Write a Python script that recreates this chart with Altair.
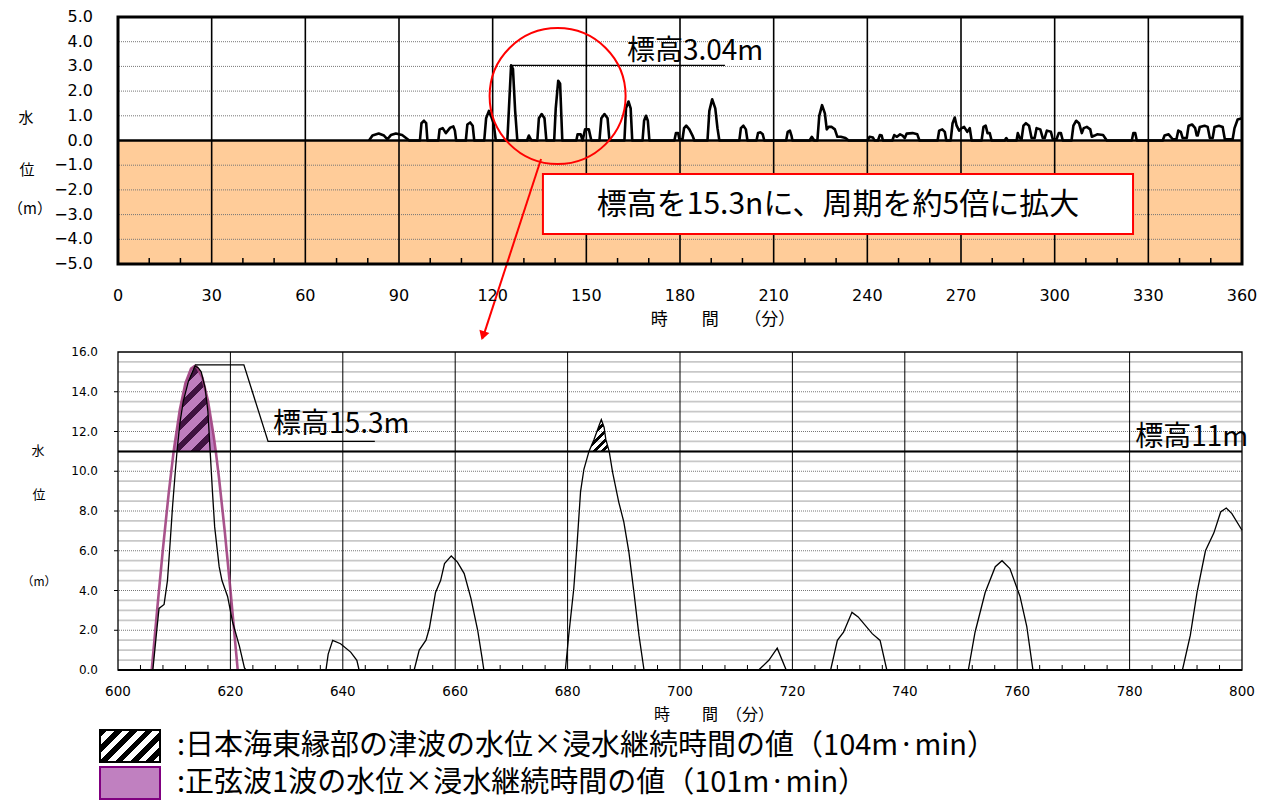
import altair as alt
import pandas as pd

CJK = "Noto Sans CJK JP"
NUM = "DejaVu Sans"

# ---------------- data ----------------
top_time = [
    80.4, 81.5, 83.5, 85.2, 86.3, 87.4, 89.0, 91.0, 93.3,
    96.7, 97.2, 98.0, 98.7, 99.1,
    102.6, 103.0, 104.0, 105.0, 106.4, 107.4, 107.9, 108.3,
    111.4, 111.9, 112.8, 113.6, 114.1,
    117.3, 117.9, 118.8, 119.6, 120.3, 121.0,
    124.7, 125.2, 125.9, 126.5, 127.2, 127.9,
    131.0, 131.6, 132.4,
    134.3, 134.8, 135.7, 136.6, 137.2,
    139.7, 140.2, 141.0, 141.6, 142.3,
    146.8, 147.2, 148.2, 148.8, 149.6, 150.8, 151.6,
    154.2, 154.8, 155.8, 156.8, 157.4,
    162.2, 162.7, 163.5, 164.2, 164.7,
    168.0, 168.5, 169.1, 169.7, 170.2,
    178.2, 178.7, 179.4, 179.8, 180.8, 181.3, 182.0, 183.0, 184.0, 184.6,
    188.8, 189.4, 190.3, 191.3, 192.0, 192.6,
    199.0, 199.5, 200.3, 201.1, 201.6,
    204.5, 205.0, 205.8, 206.5, 207.0,
    214.0, 214.5, 215.2, 215.7, 216.0,
    221.5, 222.2, 223.0,
    224.0, 224.6, 225.5, 226.4, 227.0, 227.6, 228.6, 229.6, 230.4, 231.5, 233.0, 234.0,
    240.0, 240.7, 241.8, 242.3,
    243.4, 244.0, 244.6, 245.0,
    248.0, 248.6, 249.5, 250.5, 251.3, 252.0, 252.6, 254.5, 256.0, 256.7,
    262.5, 263.0, 264.0, 264.8, 265.3,
    266.7, 267.3, 268.0, 268.6, 269.4, 270.2, 271.0, 272.0, 272.8, 273.4,
    276.6, 277.2, 277.9, 278.5, 279.2, 279.8,
    284.0, 284.5, 285.0,
    287.8, 288.2, 288.8, 289.4, 290.0, 290.8, 291.8, 292.6, 293.6, 294.2,
    295.4, 296.2, 296.8, 297.5, 298.8, 299.4, 300.6, 301.3, 302.0, 302.6,
    305.4, 306.0, 306.9, 307.8, 308.7, 309.3, 310.3, 311.4, 311.9, 312.8, 313.6, 315.5, 316.7,
    324.7, 325.2, 325.8, 326.3,
    334.6, 335.2, 336.5, 337.8, 339.0, 339.6, 340.4, 341.0, 342.3, 342.9, 344.0, 345.0, 345.5,
    345.8, 346.5, 348.0, 349.0, 349.7, 350.6, 351.2, 352.6, 353.8, 354.5, 357.0, 357.6, 358.6, 360.0,
]
top_level = [
    0.0, 0.2, 0.28, 0.2, 0.05, 0.22, 0.28, 0.22, 0.0,
    0.0, 0.7, 0.8, 0.7, 0.0,
    0.0, 0.45, 0.5, 0.3, 0.52, 0.57, 0.4, 0.0,
    0.0, 0.65, 0.73, 0.6, 0.0,
    0.0, 0.9, 1.2, 0.95, 0.7, 0.0,
    0.0, 1.26, 3.04, 2.9, 1.2, 0.0,
    0.0, 0.2, 0.0,
    0.0, 0.9, 1.07, 0.9, 0.0,
    0.0, 1.3, 2.42, 2.3, 0.0,
    0.0, 0.25, 0.25, 0.0, 0.45, 0.45, 0.0,
    0.0, 0.9, 1.07, 0.9, 0.0,
    0.0, 1.3, 1.58, 1.3, 0.0,
    0.0, 0.8, 1.0, 0.8, 0.0,
    0.0, 0.3, 0.3, 0.05, 0.05, 0.5, 0.6, 0.45, 0.2, 0.0,
    0.0, 1.2, 1.67, 1.3, 0.5, 0.0,
    0.0, 0.5, 0.6, 0.45, 0.0,
    0.0, 0.3, 0.33, 0.25, 0.0,
    0.0, 0.35, 0.4, 0.2, 0.0,
    0.0, 0.15, 0.0,
    0.0, 1.0, 1.43, 1.1, 0.45, 0.55, 0.55, 0.45, 0.15, 0.15, 0.1, 0.0,
    0.0, 0.15, 0.12, 0.0,
    0.0, 0.22, 0.2, 0.0,
    0.0, 0.22, 0.15, 0.25, 0.2, 0.1, 0.28, 0.3, 0.25, 0.0,
    0.0, 0.4, 0.45, 0.35, 0.0,
    0.0, 0.7, 0.93, 0.6, 0.4, 0.5, 0.55, 0.35, 0.5, 0.0,
    0.0, 0.55, 0.6, 0.3, 0.3, 0.0,
    0.0, 0.1, 0.0,
    0.0, 0.3, 0.1, 0.05, 0.6, 0.7, 0.6, 0.1, 0.1, 0.5,
    0.45, 0.1, 0.1, 0.4, 0.35, 0.05, 0.05, 0.3, 0.3, 0.0,
    0.0, 0.6, 0.8, 0.7, 0.3, 0.5, 0.55, 0.45, 0.15, 0.2, 0.25, 0.22, 0.0,
    0.0, 0.3, 0.3, 0.0,
    0.0, 0.2, 0.25, 0.05, 0.05, 0.4, 0.35, 0.1, 0.1, 0.6, 0.65, 0.5, 0.2,
    0.2, 0.55, 0.6, 0.55, 0.1, 0.1, 0.55, 0.6, 0.55, 0.05, 0.05, 0.5, 0.85, 0.9,
]

bottom_time = [
    600.0, 606.2, 606.9, 607.3, 608.2, 608.8, 609.3, 609.7, 610.2, 610.5, 611.0, 611.6, 612.5,
    613.7, 614.3, 614.8, 615.5, 616.0, 616.4, 616.8, 617.2, 618.0, 618.5, 619.5, 620.4,
    621.6, 622.5, 622.8,
    637.0, 637.4, 638.2, 639.6, 641.4, 642.5, 642.9,
    652.7, 653.6, 654.8, 655.4, 656.5, 657.4, 658.1, 659.3, 660.4, 661.6, 662.8, 664.0, 664.8, 665.1,
    679.6, 680.2, 681.1, 681.7, 682.3, 682.9, 683.8, 684.7, 685.6, 686.0, 686.5, 686.8, 687.4,
    688.0, 689.1, 690.0, 690.9, 691.8, 692.7, 693.6,
    714.0, 715.8, 717.3, 718.9,
    726.8, 728.0, 729.1, 730.6, 731.7, 734.2, 735.6, 736.8,
    751.3, 752.5, 754.3, 756.1, 757.3, 758.7, 760.5, 761.7, 762.8,
    789.4, 790.8, 792.0, 793.5, 795.0, 796.2, 797.2, 798.2, 800.0,
]
bottom_level = [
    0.0, 0.0, 2.0, 3.1, 3.3, 4.5, 6.5, 8.2, 10.0, 11.0, 12.4, 13.5, 14.5,
    15.3, 15.2, 15.0, 14.2, 13.0, 11.0, 9.0, 7.2, 5.2, 4.5, 3.7, 2.4,
    1.2, 0.1, 0.0,
    0.0, 0.8, 1.49, 1.32, 0.9, 0.49, 0.0,
    0.0, 1.0, 1.5, 2.1, 3.9, 4.5, 5.35, 5.74, 5.43, 4.85, 3.6, 2.0, 0.57, 0.0,
    0.0, 1.74, 4.1, 6.4, 8.96, 10.1, 11.0, 11.6, 12.3, 12.6, 12.2, 11.6, 11.0,
    9.96, 8.45, 7.45, 5.94, 3.92, 1.74, 0.0,
    0.0, 0.49, 1.1, 0.0,
    0.0, 1.49, 1.9, 2.9, 2.67, 1.83, 1.49, 0.0,
    0.0, 1.9, 3.9, 5.2, 5.5, 5.1, 3.7, 2.2, 0.0,
    0.0, 1.74, 3.9, 6.0, 6.9, 7.95, 8.15, 7.87, 7.03,
]

sine_time = [606.0, 607.0, 608.0, 609.0, 609.9, 610.0, 611.0, 612.0, 613.0, 613.65,
             614.0, 615.0, 616.0, 617.0, 617.4, 618.0, 619.0, 620.0, 621.0, 621.3]
sine_level = [0.0, 3.12, 6.11, 8.84, 11.0, 11.2, 13.09, 14.43, 15.17, 15.3,
              15.26, 14.72, 13.56, 11.82, 11.0, 9.59, 6.96, 4.04, 0.94, 0.0]

top_x_ticks = list(range(0, 361, 30))
top_x_grid = top_x_ticks[1:-1]
top_x_minor = [m for m in range(10, 360, 10) if m % 30]
top_y_ticks = list(range(-5, 6))
top_y_grid = [v for v in top_y_ticks if v not in (-5, 0, 5)]

bot_x_ticks = list(range(600, 801, 20))
bot_x_grid = bot_x_ticks[1:-1]
bot_x_minor = [m for m in range(604, 800, 4) if m % 20]
bot_y_ticks = list(range(0, 17, 2))
bot_y_grid = bot_y_ticks[1:-1]
bot_y_minor = [k / 2 for k in range(1, 32) if k % 4]

legend_items = ["hatch", "sine"]
legend_labels = [":日本海東縁部の津波の水位×浸水継続時間の値（104m·min）",
                 ":正弦波1波の水位×浸水継続時間の値（101m·min）"]

x_title = "時　　間　　（分）"
x_title_b = "時　　間　（分）"
y_title_parts = ["水", "位", "（m）"]
top_label_1 = "標高3.04m"
top_box_text = "標高を15.3nに、周期を約5倍に拡大"
bot_label_1 = "標高15.3m"
bot_label_2 = "標高11m"

# ---------------- layout constants ----------------
W = 1124
H1 = 247
H2 = 318
LEVEL = 11.0

xs1 = alt.Scale(domain=[0, 360], nice=False, zero=False)
ys1 = alt.Scale(domain=[-5, 5], nice=False)
xs2 = alt.Scale(domain=[600, 800], nice=False, zero=False)
ys2 = alt.Scale(domain=[0, 16], nice=False)

one = pd.DataFrame({"k": [0]})


def XF(s):
    return alt.X("t:Q", scale=s, axis=None)


def YF(s):
    return alt.Y("v:Q", scale=s, axis=None)


def XD(v, s):
    return alt.XDatum(datum=v, type="quantitative", scale=s, axis=None)


def YD(v, s):
    return alt.YDatum(datum=v, type="quantitative", scale=s, axis=None)


def fmt(v):
    return f"{v:.1f}".replace("-", "\u2212")


def stripes(w, h, period, c_on, c_off, duty=0.5):
    k = (w + h) / (w * w + h * h)
    n = max(1, round((w + h) / (2 ** 0.5 * period)))
    stops = []
    for i in range(n):
        a = i / n
        b = (i + duty) / n
        c = (i + 1) / n
        stops += [{"offset": a, "color": c_on}, {"offset": b, "color": c_on},
                  {"offset": b, "color": c_off}, {"offset": c, "color": c_off}]
    return {"gradient": "linear", "x1": 0, "y1": 0, "x2": w * k, "y2": h * k, "stops": stops}


def ptext(txt, x, y, size, align="center", font=CJK):
    return alt.Chart(one).mark_text(
        text=txt, font=font, fontSize=size, align=align, baseline="middle", color="black"
    ).encode(x=alt.value(x), y=alt.value(y))


# ---------------- top chart ----------------
top_df = pd.DataFrame({"t": top_time, "v": top_level})

band = alt.Chart(one).mark_rect(color="#FFCC99").encode(
    x=alt.value(0), x2=alt.value(W), y=YD(0, ys1), y2=alt.value(H1))
t_ygrid = alt.Chart(pd.DataFrame({"v": top_y_grid})).mark_rule(
    color="#777777", strokeDash=[1, 1], strokeWidth=1).encode(y=YF(ys1))
t_xgrid = alt.Chart(pd.DataFrame({"t": top_x_grid})).mark_rule(
    color="black", strokeWidth=1.6).encode(x=XF(xs1))
t_minor = alt.Chart(pd.DataFrame({"t": top_x_minor})).mark_rule(
    color="black", strokeWidth=1.5).encode(x=XF(xs1), y=alt.value(H1), y2=alt.value(H1 - 6))
t_line = alt.Chart(top_df).mark_line(color="black", strokeWidth=2.6, strokeJoin="round").encode(
    x=XF(xs1), y=YF(ys1))
t_zero = alt.Chart(one).mark_rule(color="black", strokeWidth=2.6).encode(y=YD(0, ys1))
t_lead = alt.Chart(one).mark_rule(color="black", strokeWidth=1.4).encode(
    x=XD(126.0, xs1), x2=alt.X2Datum(datum=194.4), y=YD(3.04, ys1))
t_label = alt.Chart(one).mark_text(
    text=top_label_1, font=CJK, fontSize=28, align="left", baseline="middle", color="black").encode(
    x=XD(163.0, xs1), y=YD(3.6, ys1))
t_circle = alt.Chart(one).mark_point(
    shape="circle", size=136 ** 2, filled=False, color="red", strokeWidth=2, opacity=1).encode(
    x=XD(140.8, xs1), y=YD(1.8, ys1))
t_arrow = alt.Chart(one).mark_rule(color="red", strokeWidth=2).encode(
    x=XD(135.5, xs1), x2=alt.X2Datum(datum=116.8), y=YD(-0.75, ys1), y2=alt.Y2Datum(datum=-8.0))
t_head = alt.Chart(one).mark_point(
    shape="triangle-down", size=110, filled=True, color="red", opacity=1, angle=18).encode(
    x=XD(116.9, xs1), y=YD(-7.9, ys1))
t_box = alt.Chart(one).mark_rect(fill="white", stroke="red", strokeWidth=2).encode(
    x=XD(136.1, xs1), x2=alt.X2Datum(datum=325.1), y=YD(-1.36, ys1), y2=alt.Y2Datum(datum=-3.79))
t_boxtext = alt.Chart(one).mark_text(
    text=top_box_text, font=CJK, fontSize=30, align="center",
    baseline="middle", color="black").encode(x=XD(230.6, xs1), y=YD(-2.6, ys1))
t_frame = alt.Chart(one).mark_rect(filled=False, color="black", strokeWidth=3).encode(
    x=alt.value(0), x2=alt.value(W), y=alt.value(0), y2=alt.value(H1))

t_ylab = alt.Chart(pd.DataFrame({"v": top_y_ticks, "lab": [fmt(v) for v in top_y_ticks]})).mark_text(
    font=NUM, fontSize=16, align="right", baseline="middle", color="black").encode(
    y=YF(ys1), x=alt.value(-25), text="lab:N")
t_xlab = alt.Chart(pd.DataFrame({"t": top_x_ticks, "lab": [str(v) for v in top_x_ticks]})).mark_text(
    font=NUM, fontSize=16, align="center", baseline="middle", color="black").encode(
    x=XF(xs1), y=alt.value(H1 + 32), text="lab:N")
t_xtitle = ptext(x_title, 605, H1 + 56, 17)
t_yt1 = ptext(y_title_parts[0], -92, 101, 15)
t_yt2 = ptext(y_title_parts[1], -91, 153, 15)
t_yt3 = ptext(y_title_parts[2], -88, 192, 15)

top = alt.layer(band, t_ygrid, t_xgrid, t_minor, t_line, t_zero, t_lead, t_label,
                t_circle, t_arrow, t_head, t_box, t_boxtext, t_frame,
                t_ylab, t_xlab, t_xtitle, t_yt1, t_yt2, t_yt3).properties(width=W, height=H1)

# ---------------- bottom chart ----------------
bot_df = pd.DataFrame({"t": bottom_time, "v": bottom_level})
sine_df = pd.DataFrame({"t": sine_time, "v": sine_level})

b_line = alt.Chart(bot_df).mark_line(color="black", strokeWidth=1.3).encode(
    x=XF(xs2), y=YF(ys2))
b_minor_h = alt.Chart(pd.DataFrame({"v": bot_y_minor})).mark_rule(
    color="#C8C8C8", strokeWidth=1.8).encode(y=YF(ys2))
b_ygrid = alt.Chart(pd.DataFrame({"v": bot_y_grid})).mark_rule(
    color="#777777", strokeDash=[1, 1], strokeWidth=1).encode(y=YF(ys2))
b_xgrid = alt.Chart(pd.DataFrame({"t": bot_x_grid})).mark_rule(
    color="black", strokeWidth=1).encode(x=XF(xs2))
b_minor_t = alt.Chart(pd.DataFrame({"t": bot_x_minor})).mark_rule(
    color="black", strokeWidth=1).encode(x=XF(xs2), y=alt.value(H2), y2=alt.value(H2 - 5))
b_ytick = alt.Chart(pd.DataFrame({"v": bot_y_grid})).mark_rule(
    color="black", strokeWidth=1).encode(y=YF(ys2), x=alt.value(-4), x2=alt.value(0))

px_min = W / 200.0
px_lvl = H2 / 16.0
g1 = stripes((616.4 - 610.5) * px_min, (15.3 - LEVEL) * px_lvl, 15, "#3f1240", "rgba(0,0,0,0)", 0.42)
g2 = stripes((687.4 - 683.8) * px_min, (12.6 - LEVEL) * px_lvl, 6, "black", "rgba(0,0,0,0)", 0.45)

b_sine_area = alt.Chart(sine_df).transform_filter(
    alt.FieldRangePredicate(field="t", range=[609.9, 617.4])).mark_area(
    color="#BE7DBE", opacity=1).encode(x=XF(xs2), y=YF(ys2), y2=alt.Y2Datum(datum=LEVEL))
b_hatch1 = alt.Chart(bot_df).transform_filter(
    alt.FieldRangePredicate(field="t", range=[610.5, 616.4])).mark_area(
    fill=g1, opacity=1).encode(x=XF(xs2), y=YF(ys2), y2=alt.Y2Datum(datum=LEVEL))
b_hatch2 = alt.Chart(bot_df).transform_filter(
    alt.FieldRangePredicate(field="t", range=[683.8, 687.4])).mark_area(
    fill=g2, opacity=1).encode(x=XF(xs2), y=YF(ys2), y2=alt.Y2Datum(datum=LEVEL))
b_sine_line = alt.Chart(sine_df).mark_line(color="#A0407F", strokeWidth=2.6, opacity=0.9).encode(
    x=XF(xs2), y=YF(ys2))
b_level = alt.Chart(one).mark_rule(color="black", strokeWidth=2).encode(y=YD(LEVEL, ys2))
b_zero = alt.Chart(one).mark_rule(color="black", strokeWidth=2).encode(y=YD(0, ys2))
lead_df = pd.DataFrame({"t": [613.7, 622.4, 626.7, 645.7], "v": [15.35, 15.35, 11.5, 11.5],
                        "o": [0, 1, 2, 3]})
b_lead = alt.Chart(lead_df).mark_line(color="black", strokeWidth=1.3).encode(
    x=XF(xs2), y=YF(ys2), order="o:Q")
b_lab1 = alt.Chart(one).mark_text(
    text=bot_label_1, font=CJK, fontSize=28, align="left", baseline="middle", color="black").encode(
    x=XD(627.6, xs2), y=YD(12.35, ys2))
b_lab2 = alt.Chart(one).mark_text(
    text=bot_label_2, font=CJK, fontSize=28, align="left", baseline="middle", color="black").encode(
    x=XD(781.0, xs2), y=YD(11.65, ys2))
b_frame = alt.Chart(one).mark_rect(filled=False, color="black", strokeWidth=1.3).encode(
    x=alt.value(0), x2=alt.value(W), y=alt.value(0), y2=alt.value(H2))

b_ylab = alt.Chart(pd.DataFrame({"v": bot_y_ticks, "lab": [fmt(v) for v in bot_y_ticks]})).mark_text(
    font=NUM, fontSize=12, align="right", baseline="middle", color="black").encode(
    y=YF(ys2), x=alt.value(-20), text="lab:N")
b_xlab = alt.Chart(pd.DataFrame({"t": bot_x_ticks, "lab": [str(v) for v in bot_x_ticks]})).mark_text(
    font=NUM, fontSize=13.5, align="center", baseline="middle", color="black").encode(
    x=XF(xs2), y=alt.value(H2 + 22), text="lab:N")
b_xtitle = ptext(x_title_b, 596, H2 + 45, 16)
b_yt1 = ptext(y_title_parts[0], -80, 99, 13)
b_yt2 = ptext(y_title_parts[1], -79, 143, 13)
b_yt3 = ptext(y_title_parts[2], -79, 230, 12)

bottom = alt.layer(b_minor_h, b_ygrid, b_xgrid, b_minor_t, b_ytick, b_sine_area, b_hatch1,
                   b_hatch2, b_sine_line, b_line, b_level, b_zero, b_lead, b_lab1, b_lab2,
                   b_frame, b_ylab, b_xlab, b_xtitle, b_yt1, b_yt2, b_yt3
                   ).properties(width=W, height=H2)

# ---------------- legend ----------------
leg_df = pd.DataFrame({"item": legend_items, "label": legend_labels})
ly = alt.Y("item:N", scale=alt.Scale(domain=legend_items, paddingInner=0.135, paddingOuter=0),
           axis=None)
g_sw = stripes(60, 32, 10.5, "black", "white", 0.5)
sw1 = alt.Chart(leg_df).transform_filter(alt.datum.item == "hatch").mark_rect(
    fill=g_sw, stroke="black", strokeWidth=2).encode(x=alt.value(-18), x2=alt.value(42), y=ly)
sw2 = alt.Chart(leg_df).transform_filter(alt.datum.item == "sine").mark_rect(
    fill="#C080C0", stroke="#800080", strokeWidth=2).encode(x=alt.value(-18), x2=alt.value(42), y=ly)
leg_txt = alt.Chart(leg_df).mark_text(
    align="left", baseline="middle", font=CJK, fontSize=29, color="black").encode(
    x=alt.value(59), y=ly, text="label:N")
legend = alt.layer(sw1, sw2, leg_txt).properties(width=W, height=69)

chart = alt.vconcat(top, bottom, legend, spacing=6).properties(
    padding={"left": 0, "top": 1, "right": 0, "bottom": 0}, background="white"
).configure_view(stroke="transparent", strokeWidth=0)

chart.save("out.html", embed_options={"renderer": "svg", "actions": False})
